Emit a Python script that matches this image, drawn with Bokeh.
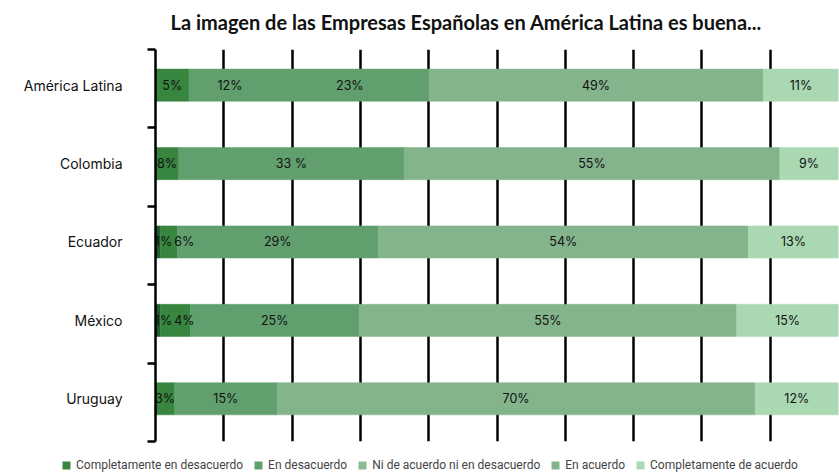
from bokeh.plotting import figure
from bokeh.layouts import column, row
from bokeh.models import (ColumnDataSource, Range1d, FixedTicker, Legend, LegendItem, Label)
from bokeh.core.properties import value
from bokeh.embed import file_html
from bokeh.resources import INLINE

# ---------------- data ----------------
countries = ["América Latina", "Colombia", "Ecuador", "México", "Uruguay"]

# segment widths (stacked, in %), in bar order
seg_extra = [0.0, 0.0, 0.7, 0.7, 0.0]          # very dark sliver (no legend entry)
seg_ced = [4.9, 3.4, 2.5, 4.4, 2.8]            # Completamente en desacuerdo
seg_ed = [12.0, 33.0, 29.4, 24.7, 15.0]        # En desacuerdo
seg_nini = [23.1, 0.0, 0.0, 0.0, 0.0]          # Ni de acuerdo ni en desacuerdo
seg_ea = [49.0, 55.0, 54.2, 55.3, 70.0]        # En acuerdo
seg_cda = [11.0, 8.6, 13.2, 14.9, 12.2]        # Completamente de acuerdo

# printed labels
lab_extra = ["", "", "1%", "1%", ""]
lab_ced = ["5%", "8%", "6%", "4%", "3%"]
lab_ed = ["12%", "33 %", "29%", "25%", "15%"]
lab_nini = ["23%", "", "", "", ""]
lab_ea = ["49%", "55%", "54%", "55%", "70%"]
lab_cda = ["11%", "9%", "13%", "15%", "12%"]

legend_labels = ["Completamente en desacuerdo", "En desacuerdo",
                 "Ni de acuerdo ni en desacuerdo", "En acuerdo",
                 "Completamente de acuerdo"]
x_ticks = [0, 10, 20, 30, 40, 50, 60, 70, 80, 90, 100]

title_text = "La imagen de las Empresas Españolas en América Latina es buena..."

# ---------------- styles ----------------
C_VDARK = "#1f5c2c"
C_DARK = "#37853f"
C_MED = "#61a06e"
C_NINI_LEG = "#8cbb94"
C_LIGHT = "#84b48c"
C_LIGHTEST = "#aad8b2"

series = [
    (seg_extra, lab_extra, C_VDARK),
    (seg_ced, lab_ced, C_DARK),
    (seg_ed, lab_ed, C_MED),
    (seg_nini, lab_nini, C_MED),
    (seg_ea, lab_ea, C_LIGHT),
    (seg_cda, lab_cda, C_LIGHTEST),
]
legend_colors = [C_DARK, C_MED, C_NINI_LEG, C_LIGHT, C_LIGHTEST]

n = len(countries)
ys = [n - 1 - i for i in range(n)]
shift = 0.045
y_lo, y_hi = -0.5 - shift, n - 0.5 - shift

TITLE_H = 40
LEG_H = 18
MAIN_H = 474 - TITLE_H - LEG_H   # 416
FRAME_TOP, FRAME_BOTTOM = 49, 441

def bare_figure(h):
    f = figure(width=839, height=h, output_backend="svg", toolbar_location=None,
               x_range=Range1d(0, 1), y_range=Range1d(0, 1),
               min_border_left=0, min_border_right=0, min_border_top=0,
               min_border_bottom=0)
    f.axis.visible = False
    f.grid.visible = False
    f.outline_line_color = None
    f.background_fill_color = "white"
    f.border_fill_color = "white"
    return f

# ---------------- title strip ----------------
tf = bare_figure(TITLE_H)
tf.add_layout(Label(x=170, y=TITLE_H - 21, x_units="screen", y_units="screen",
                    text=title_text, text_align="left", text_baseline="middle",
                    text_font="Lato", text_font_style="bold",
                    text_font_size="20px", text_color="#111111"))

# ---------------- main chart ----------------
p = figure(width=839, height=MAIN_H, output_backend="svg", toolbar_location=None,
           x_range=Range1d(0, 100), y_range=Range1d(y_lo, y_hi),
           min_border_left=155, min_border_right=1,
           min_border_top=FRAME_TOP - TITLE_H,
           min_border_bottom=TITLE_H + MAIN_H - FRAME_BOTTOM)
p.outline_line_color = None
p.background_fill_color = "white"
p.border_fill_color = "white"

# grid
p.ygrid.visible = False
p.xgrid.ticker = FixedTicker(ticks=x_ticks)
p.xgrid.grid_line_color = "black"
p.xgrid.grid_line_width = 2.5
p.xaxis.visible = False

# y axis
yax = p.yaxis[0]
yax.ticker = FixedTicker(ticks=ys, minor_ticks=[y_lo + k for k in range(n + 1)])
yax.major_label_overrides = {y: c for y, c in zip(ys, countries)}
yax.major_tick_line_color = None
yax.major_tick_out = 0
yax.major_tick_in = 0
yax.minor_tick_out = 8
yax.minor_tick_in = 0
yax.minor_tick_line_color = "black"
yax.minor_tick_line_width = 2.5
yax.axis_line_color = "black"
yax.axis_line_width = 2.5
yax.major_label_standoff = 25
yax.major_label_text_font = "Inter"
yax.major_label_text_font_size = "14px"
yax.major_label_text_color = "#111111"

# stacked bars
left = [0.0] * n
label_x, label_y, label_t = [], [], []
prev_right = [-1e9] * n
px_per_unit = 683 / 100.0
for seg, labs, col in series:
    right = [l + s for l, s in zip(left, seg)]
    src = ColumnDataSource(dict(y=ys, left=left, right=right))
    p.hbar(y="y", left="left", right="right", height=0.41, source=src,
           fill_color=col, line_color=col, line_width=0.5)
    for i in range(n):
        if labs[i]:
            w = len(labs[i]) * 7.0 / px_per_unit
            cx = (left[i] + right[i]) / 2.0
            cx = max(cx, w / 2 + 0.15, prev_right[i] + 1.0 + w / 2)
            prev_right[i] = cx + w / 2
            label_x.append(cx)
            label_y.append(ys[i])
            label_t.append(labs[i])
    left = right

lsrc = ColumnDataSource(dict(x=label_x, y=label_y, t=label_t))
p.text(x="x", y="y", text="t", source=lsrc, text_align="center",
       text_baseline="middle", text_font=value("Inter"),
       text_font_size="12.5px", text_color="#111111")

# ---------------- legend strip ----------------
lf = bare_figure(LEG_H)
items = []
for lab, col in zip(legend_labels, legend_colors):
    # invisible swatch renderer (zero-width bar outside the view), only for the legend key
    r = lf.hbar(y=[-5], left=[0], right=[0], height=0.4, fill_color=col, line_color=None)
    items.append(LegendItem(label=lab, renderers=[r]))
legend = Legend(items=items, orientation="horizontal", location=(61, 2),
                glyph_width=10, glyph_height=10, label_standoff=5, spacing=10,
                padding=0, margin=0, border_line_color=None,
                background_fill_alpha=0, label_text_font="Roboto",
                label_text_font_size="12px", label_text_color="#444444",
                label_height=10)
lf.add_layout(legend, "center")

layout = column(row(tf, spacing=0), p, row(lf, spacing=0), spacing=0)
open("out.html", "w").write(file_html(layout, INLINE))
